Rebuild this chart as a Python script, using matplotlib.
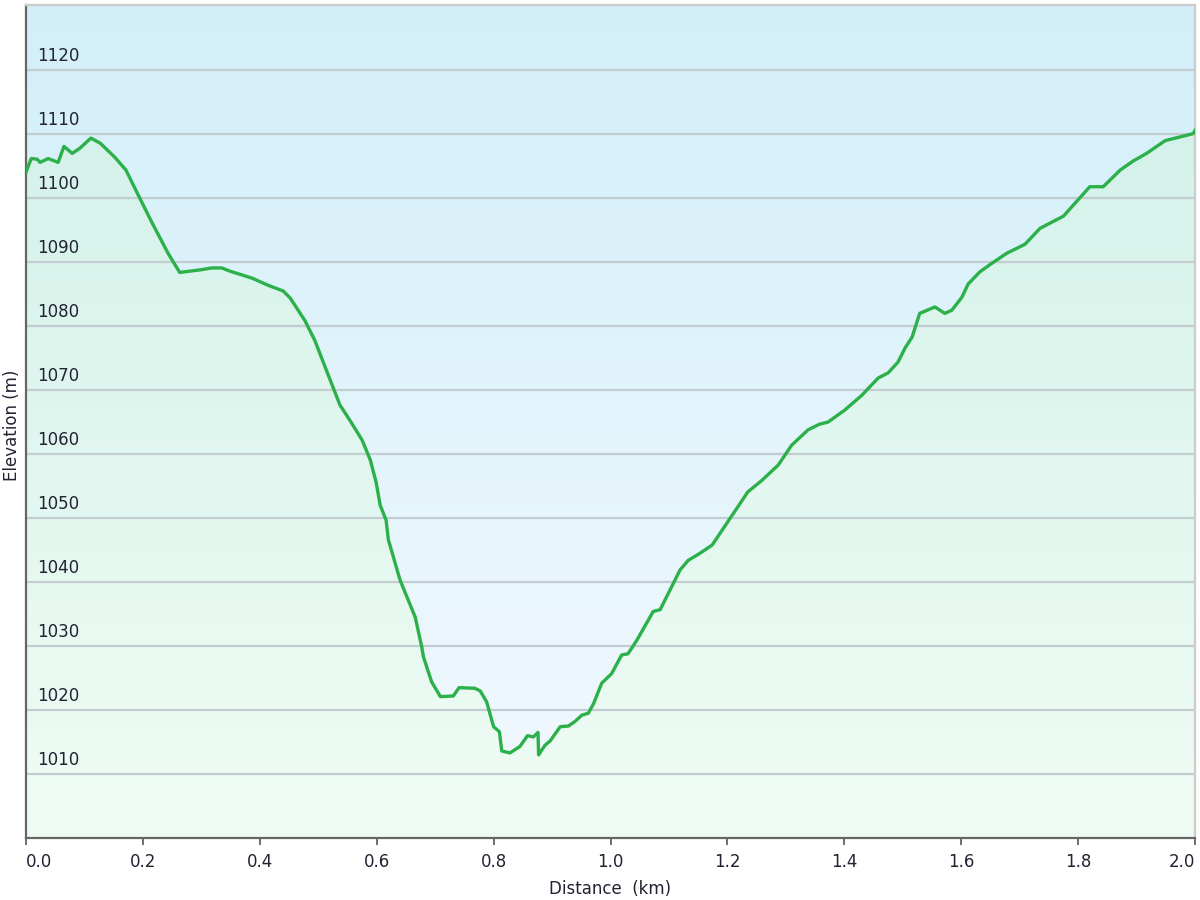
import numpy as np
import matplotlib
matplotlib.use("Agg")
import matplotlib.pyplot as plt
import matplotlib.transforms as mtransforms
from matplotlib.colors import LinearSegmentedColormap


# -----------------------------
# Data
# -----------------------------

distance_km = [
    0.000, 0.009, 0.019, 0.024, 0.038, 0.055, 0.065, 0.079, 0.092, 0.111,
    0.127, 0.152, 0.171, 0.192, 0.216, 0.243, 0.263, 0.298, 0.318, 0.335,
    0.349, 0.387, 0.414, 0.440, 0.452, 0.477, 0.494, 0.511, 0.537, 0.554,
    0.575, 0.589, 0.599, 0.606, 0.616, 0.620, 0.640, 0.666, 0.677, 0.680,
    0.694, 0.709, 0.731, 0.741, 0.768, 0.777, 0.788, 0.800, 0.810, 0.814,
    0.828, 0.845, 0.858, 0.868, 0.876, 0.877, 0.888, 0.897, 0.914, 0.928,
    0.939, 0.951, 0.962, 0.971, 0.985, 1.002, 1.019, 1.030, 1.045, 1.073,
    1.085, 1.119, 1.133, 1.153, 1.174, 1.235, 1.259, 1.287, 1.310, 1.338,
    1.358, 1.372, 1.401, 1.430, 1.458, 1.475, 1.492, 1.504, 1.516, 1.529,
    1.555, 1.572, 1.584, 1.601, 1.612, 1.632, 1.652, 1.678, 1.709, 1.735,
    1.775, 1.820, 1.843, 1.872, 1.894, 1.917, 1.949, 1.997, 2.000,
]

elevation_m = [
    1104.1, 1106.2, 1106.1, 1105.6, 1106.2, 1105.6, 1108.1, 1107.0, 1107.8, 1109.4,
    1108.6, 1106.4, 1104.4, 1100.5, 1096.1, 1091.4, 1088.4, 1088.8, 1089.1, 1089.1,
    1088.6, 1087.5, 1086.4, 1085.5, 1084.4, 1080.9, 1077.8, 1073.8, 1067.7, 1065.3,
    1062.2, 1059.1, 1055.6, 1052.0, 1049.7, 1046.6, 1040.3, 1034.5, 1029.9, 1028.3,
    1024.4, 1022.1, 1022.2, 1023.5, 1023.4, 1023.0, 1021.3, 1017.4, 1016.6, 1013.6,
    1013.3, 1014.3, 1016.0, 1015.8, 1016.5, 1013.0, 1014.5, 1015.2, 1017.4, 1017.5,
    1018.2, 1019.2, 1019.5, 1021.0, 1024.2, 1025.7, 1028.6, 1028.8, 1030.9, 1035.4,
    1035.7, 1041.9, 1043.4, 1044.5, 1045.8, 1054.1, 1055.9, 1058.3, 1061.4, 1063.8,
    1064.7, 1065.0, 1066.9, 1069.2, 1071.9, 1072.7, 1074.4, 1076.6, 1078.3, 1082.0,
    1083.0, 1082.0, 1082.5, 1084.5, 1086.6, 1088.5, 1089.8, 1091.4, 1092.8, 1095.3,
    1097.2, 1101.8, 1101.8, 1104.4, 1105.8, 1107.0, 1109.0, 1110.1, 1110.6,
]

x_ticks = [0.0, 0.2, 0.4, 0.6, 0.8, 1.0, 1.2, 1.4, 1.6, 1.8, 2.0]
y_ticks = [1010, 1020, 1030, 1040, 1050, 1060, 1070, 1080, 1090, 1100, 1110, 1120]

X_MIN, X_MAX = 0.0, 2.0
Y_MIN, Y_MAX = 1000, 1130.2

LINE_COLOR = "#2bb04a"
GRID_COLOR = "#c3ccd1"
TEXT_COLOR = "#222233"
FONT_SIZE = 12


# -----------------------------
# Chart
# -----------------------------

fig = plt.figure(figsize=(12, 9), dpi=100)
ax = fig.add_axes([26 / 1200, 62 / 900, 1169 / 1200, 833 / 900])

ax.set_xlim(X_MIN, X_MAX)
ax.set_ylim(Y_MIN, Y_MAX)

# Sky gradient behind everything
sky = LinearSegmentedColormap.from_list("sky", ["#f3f9fe", "#d2eff9"])
grad = np.linspace(0, 1, 256).reshape(-1, 1)
ax.imshow(grad, cmap=sky, origin="lower", aspect="auto",
          extent=(X_MIN, X_MAX, Y_MIN, Y_MAX), zorder=0)

# Green gradient under the profile, clipped to the area below the line
ground = LinearSegmentedColormap.from_list("ground", ["#effcf4", "#d4f2ea"])
ground_img = ax.imshow(grad, cmap=ground, origin="lower", aspect="auto",
                       extent=(X_MIN, X_MAX, Y_MIN, 1112), zorder=1)
area = ax.fill_between(distance_km, elevation_m, Y_MIN,
                       facecolor="none", edgecolor="none")
clip_path = area.get_paths()[0]
ground_img.set_clip_path(clip_path, transform=ax.transData)

# Gridlines
for v in y_ticks:
    ax.axhline(v, color=GRID_COLOR, linewidth=1.6, zorder=2)

ax.plot(distance_km, elevation_m, color=LINE_COLOR, linewidth=2.4,
        solid_joinstyle="round", zorder=3)

# Y labels sit inside the plot, just above each gridline
trans = mtransforms.blended_transform_factory(ax.transAxes, ax.transData)
for v in y_ticks:
    ax.text(0.0095, v + 0.8, str(v), transform=trans, ha="left", va="bottom",
            fontsize=FONT_SIZE, color=TEXT_COLOR, zorder=4)

ax.set_yticks([])
ax.set_xticks(x_ticks)
ax.set_xticklabels([f"{t:.1f}" for t in x_ticks], fontsize=FONT_SIZE,
                   color=TEXT_COLOR)
ax.tick_params(axis="x", direction="out", length=5, width=1.2,
               color="#555555", pad=6)

# Keep the end labels inside the plot width
tick_labels = ax.get_xticklabels()
tick_labels[0].set_horizontalalignment("left")
tick_labels[-1].set_horizontalalignment("right")

ax.set_xlabel("Distance  (km)", fontsize=FONT_SIZE, color=TEXT_COLOR,
              labelpad=6)
fig.text(12 / 1200, 1 - 425 / 900, "Elevation (m)", rotation=90,
         ha="center", va="center", fontsize=FONT_SIZE, color=TEXT_COLOR)

for side in ("left", "bottom"):
    ax.spines[side].set_color("#666666")
    ax.spines[side].set_linewidth(1.6)
for side in ("top", "right"):
    ax.spines[side].set_color("#cccccc")
    ax.spines[side].set_linewidth(1.6)

fig.savefig("out.png", dpi=100)
